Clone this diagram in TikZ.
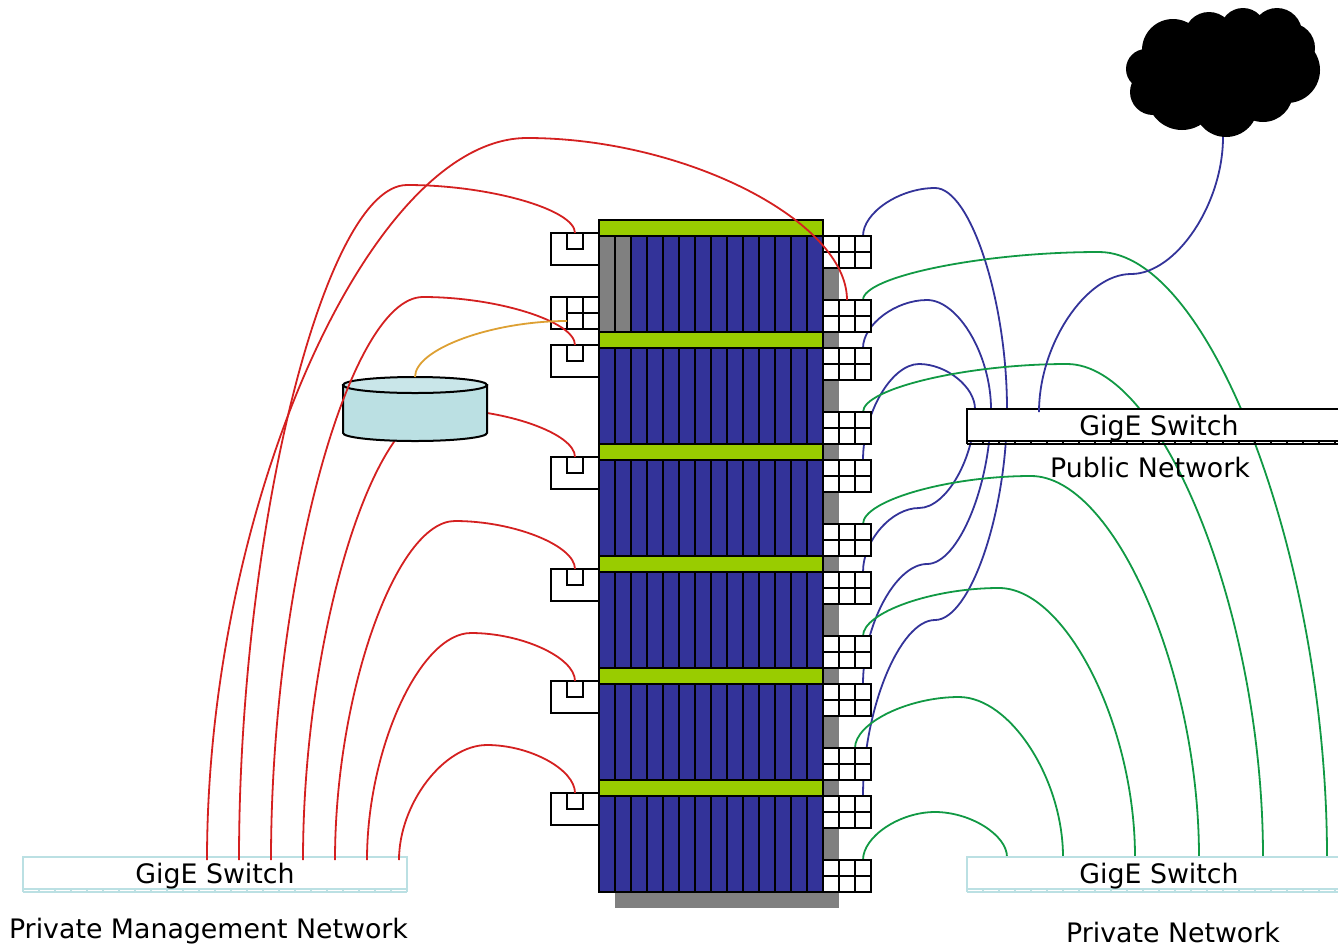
\documentclass[tikz,border=0pt]{standalone}
\usepackage{fontspec}
\setmainfont{DejaVu Sans}
\usetikzlibrary{calc}
\definecolor{rackblue}{HTML}{333399}
\definecolor{rackgreen}{HTML}{99CC00}
\definecolor{rackgray}{HTML}{808080}
\definecolor{disk}{HTML}{BBE0E3}
\definecolor{disktop}{HTML}{C9E6E9}
\definecolor{wirered}{HTML}{D42020}
\definecolor{wiregreen}{HTML}{119944}
\definecolor{wireblue}{HTML}{333399}
\definecolor{wiregold}{HTML}{DDA033}
\tikzset{
  x=1pt,y=-1pt,
  black line/.style={draw=black,line width=2pt},
  wire/.style={line width=1.8pt},
  redwire/.style={wire,draw=wirered},
  greenwire/.style={wire,draw=wiregreen},
  bluewire/.style={wire,draw=wireblue},
  goldwire/.style={wire,draw=wiregold},
  portbox/.style={black line,fill=white,inner sep=0pt,outer sep=0pt,minimum width=48pt,minimum height=32pt},
  smallbox/.style={black line,fill=white,inner sep=0pt,outer sep=0pt,minimum width=16pt,minimum height=16pt},
  switchbox/.style={inner sep=0pt,outer sep=0pt,minimum width=384pt,minimum height=32pt,fill=white,line width=2pt},
  netlabel/.style={inner sep=0pt,font=\fontsize{26.8}{30}\selectfont},
}
\newcommand{\twoarc}[4]{%
  \coordinate (mm) at (#3);
  \draw[#1] (#2) .. controls ($(#2)!0.49!(#2|-mm)$) and ($(mm)!0.49!(#2|-mm)$) .. (mm)
     .. controls ($(mm)!0.49!(mm-|#4)$) and ($(#4)!0.49!(mm-|#4)$) .. (#4);
}
\newcommand{\swticks}[4]{% name, colour, x0, y of lower line
  \draw[draw=#2,line width=1.4pt] (#3,#4) -- ++(384,0);
  \foreach \k in {0,...,24}{\draw[draw=#2,line width=1.2pt] (#3+16*\k,#4-3) -- ++(0,3);}
}
\begin{document}
\begin{tikzpicture}
\clip (0,0) rectangle (1338,946);
% shadow
\fill[rackgray] (615,236) rectangle (839,908);
% rack
\foreach \u in {0,...,5}{
  \pgfmathsetmacro{\yy}{220+112*\u}
  \draw[black line,fill=rackgreen] (599,\yy) rectangle (823,\yy+16);
  \foreach \s in {0,...,13}{
    \pgfmathsetmacro{\xx}{599+16*\s}
    \draw[black line,fill=rackblue] (\xx,\yy+16) rectangle (\xx+16,\yy+112);
  }
}
\foreach \s in {0,1}{\draw[black line,fill=rackgray] (599+16*\s,236) rectangle (615+16*\s,332);}
% named anchors
\foreach \n/\y in {1/252,2/316,3/364,4/428,5/476,6/540,7/588,8/652,9/700,10/764,11/812,12/876}{
  \coordinate (R\n c) at (847,\y);
  \coordinate (P\n) at (863,\y-16);
}
\coordinate (P10m) at (855,748);
% cloud
\node[inner sep=0pt,outer sep=0pt,minimum width=10pt,minimum height=2pt] (cloud) at (1223,136) {};
\foreach \cx/\cy/\r in {1173/50/31,1209/37/25,1243/31/23,1277/33/25,1290/48/25,1287/70/33,1263/92/30,1226/105/32,1182/95/35,1153/92/23,1146/69/20}{
  \fill[black] (\cx,\cy) circle[radius=\r];
}
\fill[black] (1225,70) ellipse[x radius=60,y radius=45];
% switch anchors on the public switch
\coordinate (PA) at (1007,409);
\coordinate (PB) at (991,409);
\coordinate (PC) at (975,409);
\coordinate (PU) at (1039,412);
% private switch anchors
\foreach \n/\x in {1/1007,2/1063,3/1135,4/1199,5/1263,6/1327}{\coordinate (G\n) at (\x,857);}
% blue wires
\twoarc{bluewire}{P1}{935,188}{PA}
\twoarc{bluewire}{P11}{935,620}{PA}
\twoarc{bluewire}{P3}{927,300}{PB}
\twoarc{bluewire}{P9}{927,564}{PB}
\twoarc{bluewire}{P5}{919,364}{PC}
\twoarc{bluewire}{P7}{919,508}{PC}
% green wires
\twoarc{greenwire}{P2}{1099,252}{G6}
\twoarc{greenwire}{P4}{1067,364}{G5}
\twoarc{greenwire}{P6}{1031,476}{G4}
\twoarc{greenwire}{P8}{999,588}{G3}
\twoarc{greenwire}{P10m}{959,697}{G2}
\twoarc{greenwire}{P12}{935,812}{G1}
% right ports
\foreach \n in {1,...,12}{
  \node[portbox] (R\n) at (R\n c) {};
  \draw[black line] ([xshift=-8pt]R\n.north) -- ([xshift=-8pt]R\n.south);
  \draw[black line] ([xshift=8pt]R\n.north) -- ([xshift=8pt]R\n.south);
  \draw[black line] (R\n.west) -- (R\n.east);
}
% public switch
\node[switchbox,draw=black,anchor=north west] (pubsw) at (967,409) {};
\swticks{pubsw}{black}{967}{444}
\node[netlabel] (pubtxt) at (1159,428) {GigE Switch};
\node[netlabel] (publabel) at (1150,467.5) {Public Network};
\twoarc{bluewire}{PU}{1131,274}{cloud.south}
% private switch
\node[switchbox,draw=disk,anchor=north west] (privsw) at (967,857) {};
\swticks{privsw}{disk}{967}{892}
\node[netlabel] (privtxt) at (1159,876) {GigE Switch};
\node[netlabel] (privlabel) at (1173,932) {Private Network};
% management switch
\node[switchbox,draw=disk,anchor=north west] (mgmtsw) at (23,857) {};
\swticks{mgmtsw}{disk}{23}{892}
\node[netlabel] (mgmttxt) at (215,876) {GigE Switch};
\node[netlabel] (mgmtlabel) at (208.5,931) {Private Management Network};
\foreach \n/\x in {1/207,2/239,3/271,4/303,5/335,6/367,7/399}{\coordinate (M\n) at (\x,860);}
% left ports
\foreach \n/\y in {1/249,2/361,3/473,4/585,5/697,6/809}{
  \node[portbox] (L\n) at (575,\y) {};
  \node[smallbox,anchor=north] (S\n) at (L\n.north) {};
}
\node[portbox] (E) at (575,313) {};
\draw[black line] ([xshift=-8pt]E.north) -- ([xshift=-8pt]E.south);
\draw[black line] ([xshift=8pt]E.north) -- ([xshift=8pt]E.south);
\draw[black line] ([xshift=-8pt]E.center) -- (E.east);
\coordinate (Egold) at (567,321);
% red wires
\twoarc{redwire}{M4}{439,409}{L3.north}
% disk
\node[inner sep=0pt,outer sep=0pt,minimum width=144pt,minimum height=64pt] (disknode) at (415,409) {};
\draw[black line,fill=disk] (343,385) -- (343,433) arc[start angle=180,end angle=360,x radius=72,y radius=-8] -- (487,385) -- cycle;
\draw[black line,fill=disktop] (415,385) ellipse[x radius=72,y radius=8];
\twoarc{redwire}{M7}{487,745}{L6.north}
\twoarc{redwire}{M6}{471,633}{L5.north}
\twoarc{redwire}{M5}{455,521}{L4.north}
\twoarc{redwire}{M3}{423,297}{L2.north}
\twoarc{redwire}{M2}{407,185}{L1.north}
\twoarc{redwire}{M1}{527,138}{R2.north}
% gold wire
\draw[goldwire] (disknode.north) .. controls (415,349) and (492,321) .. (Egold);
\end{tikzpicture}
\end{document}
